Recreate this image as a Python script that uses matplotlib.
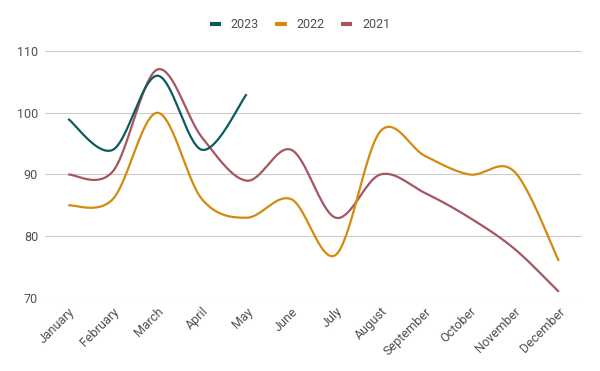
import numpy as np
import matplotlib
matplotlib.use("Agg")
import matplotlib.pyplot as plt
from matplotlib.lines import Line2D

MONTHS = ["January", "February", "March", "April", "May", "June", "July",
          "August", "September", "October", "November", "December"]
Y2023 = [99, 94, 106, 94, 103]
Y2022 = [85, 86, 100, 86, 83, 86, 77, 97, 93, 90, 90.5, 76]
Y2021 = [90, 90.5, 107, 96, 89, 94, 83, 90, 87, 83, 78, 71]

COLORS = {"2023": "#0e5a5e", "2022": "#d68a0d", "2021": "#a6565f"}
TEXT = "#4a5054"


def smooth(ys, steps=40):
    # catmull-rom style bezier through every point, flat at the ends
    pts = np.column_stack([np.arange(len(ys), dtype=float), np.asarray(ys, float)])
    n = len(pts)
    out = [pts[0]]
    t = np.linspace(0, 1, steps)[1:, None]
    for i in range(n - 1):
        p0 = pts[max(i - 1, 0)]
        p1, p2 = pts[i], pts[i + 1]
        p3 = pts[min(i + 2, n - 1)]
        c1 = p1 + (p2 - p0) / 6.0
        c2 = p2 - (p3 - p1) / 6.0
        seg = ((1 - t) ** 3) * p1 + 3 * ((1 - t) ** 2) * t * c1 \
            + 3 * (1 - t) * t ** 2 * c2 + t ** 3 * p2
        out.extend(seg)
    out = np.array(out)
    return out[:, 0], out[:, 1]


plt.rcParams["font.family"] = ["Roboto", "DejaVu Sans"]

fig = plt.figure(figsize=(6, 3.71), dpi=100)
ax = fig.add_axes([45 / 600, 73 / 371, 537 / 600, 247 / 371])

for name, ys in (("2021", Y2021), ("2022", Y2022), ("2023", Y2023)):
    sx, sy = smooth(ys)
    ax.plot(sx, sy, color=COLORS[name], lw=1.6, solid_capstyle="butt", zorder=3)

ax.set_xlim(-0.52, 11.52)
ax.set_ylim(70, 110)
ax.set_yticks([70, 80, 90, 100, 110])
ax.grid(True, axis="y", color="#cccccc", lw=0.8)
ax.set_axisbelow(True)
for s in ax.spines.values():
    s.set_visible(False)
ax.tick_params(axis="both", length=0, labelsize=9, labelcolor=TEXT)
ax.tick_params(axis="y", pad=5)
ax.set_xticks(np.arange(len(MONTHS)))
ax.set_xticklabels(MONTHS, rotation=45, ha="right", rotation_mode="anchor")
ax.tick_params(axis="x", pad=5)

handles = [Line2D([], [], color=COLORS[k], lw=3, solid_capstyle="butt")
           for k in ("2023", "2022", "2021")]
fig.legend(handles, ["2023", "2022", "2021"], loc="center",
           bbox_to_anchor=(0.5, 1 - 25 / 371), ncol=3, frameon=False,
           fontsize=9, labelcolor=TEXT, handlelength=0.9, handletextpad=0.8,
           columnspacing=1.3)

fig.savefig("out.png", dpi=100)
